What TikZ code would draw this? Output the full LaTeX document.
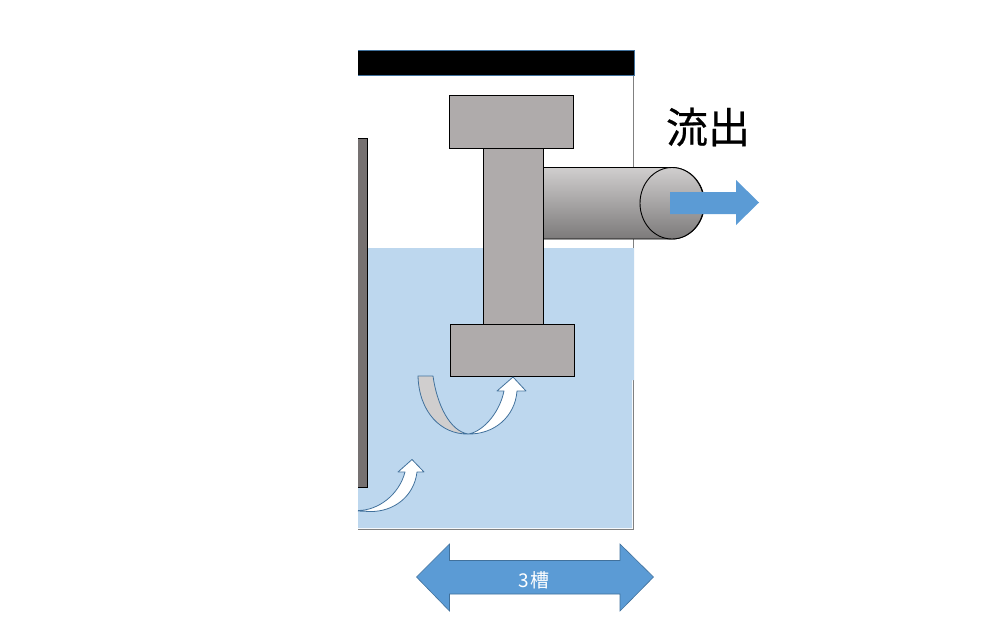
\documentclass[tikz,border=0pt]{standalone}
\usepackage{fontspec}
\newfontfamily\cjk{Noto Sans CJK JP}
\newfontfamily\cjkheavy[FakeBold=0.5]{Noto Sans CJK JP}
\definecolor{wat}{HTML}{BDD7EE}
\definecolor{blk}{HTML}{AFABAB}
\definecolor{plate}{HTML}{767171}
\definecolor{cylbot}{HTML}{7C7A7A}
\definecolor{cyltop}{HTML}{D0CECE}
\definecolor{arrowblue}{HTML}{5B9BD5}
\definecolor{edgeblue}{HTML}{41719C}
\definecolor{tankline}{HTML}{808080}
\tikzset{
  block/.style={draw=black,fill=blk,line width=0.9pt},
  curved/.style={draw=edgeblue,line width=0.8pt,line join=round},
  flat/.style={fill=arrowblue,draw=none},
}
\begin{document}
\begin{tikzpicture}[x=1pt,y=-1pt]
\useasboundingbox (0,0) rectangle (1008,632);
\fill[white] (0,0) rectangle (1008,632);
% tank outline
\draw[tankline,line width=0.9pt] (633.5,75) -- (633.5,529) -- (358,529);
% water
\fill[wat] (358,248) -- (634,248) -- (634,380) -- (632,380) -- (632,528) -- (358,528) -- cycle;
% lid
\fill[black] (358,50.5) rectangle (634,75.5);
\draw[edgeblue,line width=0.9pt] (358,50.5) -- (634.3,50.5) -- (634.3,75.5) -- (358,75.5);
% left plate
\draw[draw=black,fill=plate,line width=0.9pt] (358,138.5) -- (367.5,138.5) -- (367.5,487.5) -- (358,487.5);
% outlet cylinder
\shade[top color=cyltop,bottom color=cylbot] (543.5,167.5) -- (672,167.5) arc[start angle=-90,end angle=90,x radius=32.5,y radius=35.75] -- (543.5,239) -- cycle;
\draw[black,line width=0.9pt] (543.5,167.5) -- (672,167.5) arc[start angle=-90,end angle=90,x radius=32.5,y radius=35.75] -- (543.5,239);
\shade[top color=cyltop,bottom color=cylbot] (672,203.25) ellipse[x radius=32,y radius=35.75];
\draw[black,line width=0.9pt] (672,203.25) ellipse[x radius=32,y radius=35.75];
% pump body
\draw[block] (483.5,148) rectangle (543.5,324.5);
\draw[block] (449.5,95.5) rectangle (573.5,148);
\draw[block] (450.5,324.5) rectangle (574.5,376.5);
% outflow arrow
\fill[flat] (670,192) -- (736,192) -- (736,180) -- (759,202.5) -- (736,225) -- (736,214) -- (670,214) -- cycle;
\node[font=\cjkheavy,text=black,inner sep=0pt,anchor=center] (outlabel) at (708,127) {\fontsize{42}{42}\selectfont 流出};
% large curved arrow
\filldraw[curved,fill=cyltop] (418,376) -- (433,376) .. controls (437,405) and (450,431) .. (468,434) .. controls (441,434.5) and (419,412) .. (418,376) -- cycle;
\filldraw[curved,fill=white] (468,434) .. controls (481,432.5) and (499,415) .. (504,391) -- (497,391) -- (513,377) -- (526,391) -- (517,391) .. controls (515,417) and (494,434.5) .. (468,434) -- cycle;
% small curved arrow
\filldraw[curved,fill=white] (358,510.5) .. controls (378,510.5) and (399,495) .. (405,472) -- (398,472) -- (412,459.5) -- (424,472) -- (417,472) .. controls (414,497) and (393,512) .. (370,511.5) -- (358,511);
% width arrow
\filldraw[fill=arrowblue,draw=edgeblue,line width=0.6pt,line join=miter] (416.5,577) -- (449.5,544) -- (449.5,560.5) -- (620,560.5) -- (620,544) -- (653.5,577) -- (620,611) -- (620,594) -- (449.5,594) -- (449.5,611) -- cycle;
\node[font=\cjk,text=white,inner sep=0pt,anchor=center] (widthlabel) at (534,580) {\fontsize{19}{19}\selectfont 3\kern1.5pt 槽};
\end{tikzpicture}
\end{document}
